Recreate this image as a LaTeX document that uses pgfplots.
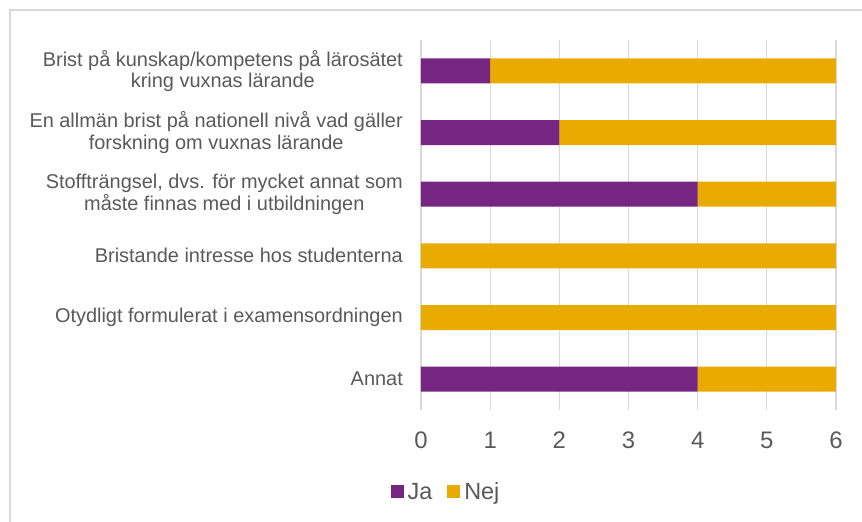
\documentclass[border=0pt]{standalone}
\usepackage{fontspec}
\setmainfont{Liberation Sans}
\usepackage{pgfplots}
\pgfplotsset{compat=1.18}
\definecolor{ja}{HTML}{752681}
\definecolor{nej}{HTML}{EAAB00}
\definecolor{txt}{HTML}{595959}
\definecolor{grd}{HTML}{D9D9D9}
\begin{document}
\begin{tikzpicture}
\path[use as bounding box] (-421bp,-112bp) rectangle (441bp,410bp);
\draw[grd, line width=1.5bp] (-411bp,-112bp) -- (-411bp,400bp) -- (441bp,400bp);
\begin{axis}[
  at={(0,0)}, anchor=south west,
  scale only axis, width=415bp, height=370bp,
  xbar stacked, bar width=25bp,
  xmin=0, xmax=6, ymin=-0.5, ymax=5.5, y dir=reverse,
  xtick={0,...,6}, ytick={0,...,5},
  yticklabels={{Brist på kunskap/kompetens på lärosätet\\kring vuxnas lärande},
               {En allmän brist på nationell nivå vad gäller\\forskning om vuxnas lärande},
               {Stoffträngsel, dvs. för mycket annat som\\måste finnas med i utbildningen},
               {Bristande intresse hos studenterna},
               {Otydligt formulerat i examensordningen},
               {Annat}},
  axis line style={draw=none},
  major tick length=0,
  xmajorgrids, major grid style={grd, line width=1.2bp},
  tick label style={text=txt, inner sep=0pt},
  xticklabel style={font=\fontsize{24}{28}\selectfont, anchor=center, yshift=-30bp},
  yticklabel style={font=\fontsize{20}{21.5}\selectfont, align=center, anchor=east, xshift=-18bp},
  /pgf/number format/assume math mode=true,
  legend style={draw=none, at={(0.0578,-0.2216)}, anchor=center,
    font=\fontsize{23.5}{27}\selectfont, text=txt, legend columns=2,
    /tikz/every odd column/.append style={column sep=4bp},
    /tikz/every even column/.append style={column sep=15bp},
    nodes={inner sep=0pt}},
  legend image code/.code={\fill[#1] (0bp,-6.5bp) rectangle (13bp,6.5bp);},
]
\addplot[fill=ja, draw=none] coordinates {(1,0) (2,1) (4,2) (0,3) (0,4) (4,5)};
\addplot[fill=nej, draw=none] coordinates {(5,0) (4,1) (2,2) (6,3) (6,4) (2,5)};
\legend{Ja,Nej}
\end{axis}
\end{tikzpicture}
\end{document}
